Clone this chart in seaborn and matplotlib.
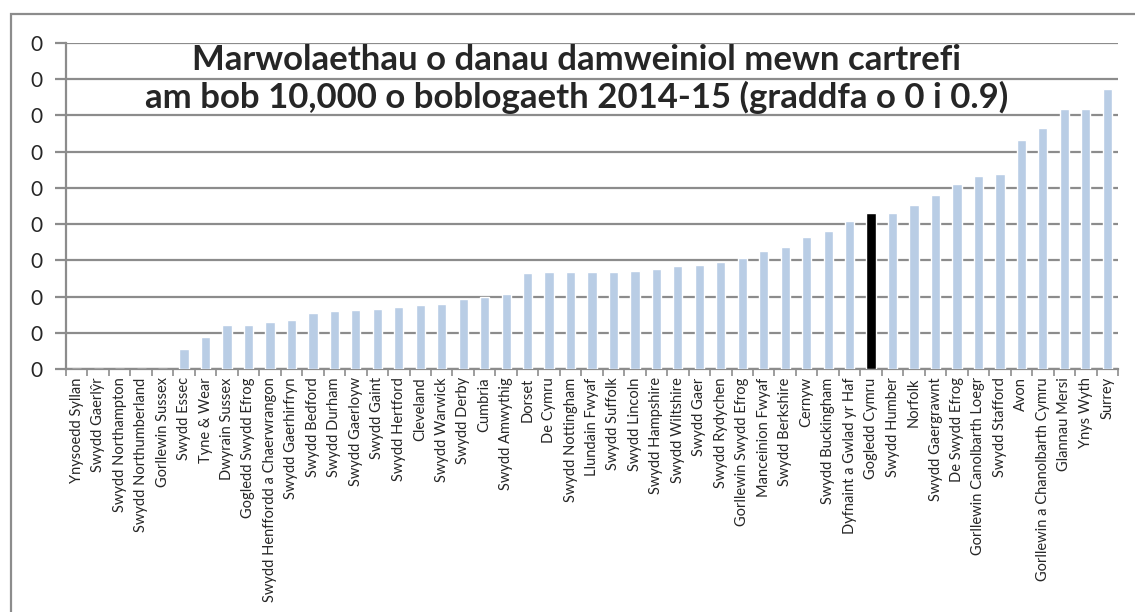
import numpy as np
import pandas as pd
import seaborn as sns
import matplotlib.pyplot as plt
from matplotlib.patches import Rectangle
from matplotlib.ticker import FixedLocator, FuncFormatter

regions = ["Ynysoedd Syllan", "Swydd Gaerlŷr", "Swydd Northampton", "Swydd Northumberland",
           "Gorllewin Sussex", "Swydd Essec", "Tyne & Wear", "Dwyrain Sussex",
           "Gogledd Swydd Efrog", "Swydd Henffordd a Chaerwrangon", "Swydd Gaerhirfryn",
           "Swydd Bedford", "Swydd Durham", "Swydd Gaerloyw", "Swydd Gaint", "Swydd Hertford",
           "Cleveland", "Swydd Warwick", "Swydd Derby", "Cumbria", "Swydd Amwythig", "Dorset",
           "De Cymru", "Swydd Nottingham", "Llundain Fwyaf", "Swydd Suffolk", "Swydd Lincoln",
           "Swydd Hampshire", "Swydd Wiltshire", "Swydd Gaer", "Swydd Rydychen",
           "Gorllewin Swydd Efrog", "Manceinion Fwyaf", "Swydd Berkshire", "Cernyw",
           "Swydd Buckingham", "Dyfnaint a Gwlad yr Haf", "Gogledd Cymru", "Swydd Humber",
           "Norfolk", "Swydd Gaergrawnt", "De Swydd Efrog", "Gorllewin Canolbarth Loegr",
           "Swydd Stafford", "Avon", "Gorllewin a Chanolbarth Cymru", "Glannau Mersi",
           "Ynys Wyth", "Surrey"]

rates = [0, 0, 0, 0, 0, 0.054, 0.087, 0.121, 0.122, 0.130, 0.136, 0.154, 0.160, 0.164,
         0.167, 0.172, 0.177, 0.180, 0.193, 0.200, 0.207, 0.264, 0.267, 0.269, 0.269,
         0.269, 0.270, 0.276, 0.284, 0.287, 0.296, 0.307, 0.327, 0.337, 0.365, 0.382,
         0.409, 0.432, 0.432, 0.454, 0.480, 0.510, 0.533, 0.538, 0.633, 0.666, 0.718,
         0.718, 0.774]

highlight = "Gogledd Cymru"

df = pd.DataFrame({"region": regions, "rate": rates})
colors = ["#000000" if r == highlight else "#B9CDE5" for r in regions]

sns.set_style("white")
plt.rcParams['font.family'] = ['Lato', 'DejaVu Sans']

fig = plt.figure(figsize=(11.35, 6.12), dpi=100)
ax = fig.add_axes([66 / 1135, 1 - 369 / 612, (1118 - 66) / 1135, (369 - 43) / 612])

sns.barplot(data=df, x="region", y="rate", hue="region", palette=colors,
            saturation=1, legend=False, width=0.43, ax=ax, zorder=3)

ax.set_ylim(0, 0.9)
ax.set_xlim(-0.5, len(regions) - 0.5)
ax.yaxis.set_major_locator(FixedLocator(np.arange(0, 0.91, 0.1)))
# the source chart shows whole numbers only, so every label reads 0
ax.yaxis.set_major_formatter(FuncFormatter(lambda v, p: f"{int(v)}"))
ax.grid(axis="y", color="#8c8c8c", linewidth=1.6, zorder=0)
ax.set_axisbelow(True)

for s in ["top", "right"]:
    ax.spines[s].set_visible(False)
for s in ["left", "bottom"]:
    ax.spines[s].set_color("#8c8c8c")
    ax.spines[s].set_linewidth(1.6)

ax.tick_params(axis="y", which="major", length=8, width=1.6, color="#8c8c8c",
               labelsize=15, pad=9, left=True)
ax.set_xticks(range(len(regions)))
ax.set_xticklabels(regions, rotation=90, fontsize=10.5)
ax.tick_params(axis="x", which="major", length=0, pad=6)
ax.set_xticks(np.arange(-0.5, len(regions), 1), minor=True)
ax.tick_params(axis="x", which="minor", length=5, width=1.2, color="#8c8c8c", bottom=True)
ax.set_xlabel("")
ax.set_ylabel("")

ax.text(0.485, 0.947, "Marwolaethau o danau damweiniol mewn cartrefi",
        transform=ax.transAxes, ha="center", va="center",
        fontsize=25, fontweight="bold")
ax.text(0.485, 0.832, "am bob 10,000 o boblogaeth 2014-15 (graddfa o 0 i 0.9)",
        transform=ax.transAxes, ha="center", va="center",
        fontsize=25, fontweight="bold")

fig.patches.append(Rectangle((11 / 1135, -0.1), 1.2, 1 - 14 / 612 + 0.1,
                             transform=fig.transFigure, fill=False,
                             edgecolor="#8c8c8c", linewidth=1.6))

fig.savefig("out.png", dpi=100)
